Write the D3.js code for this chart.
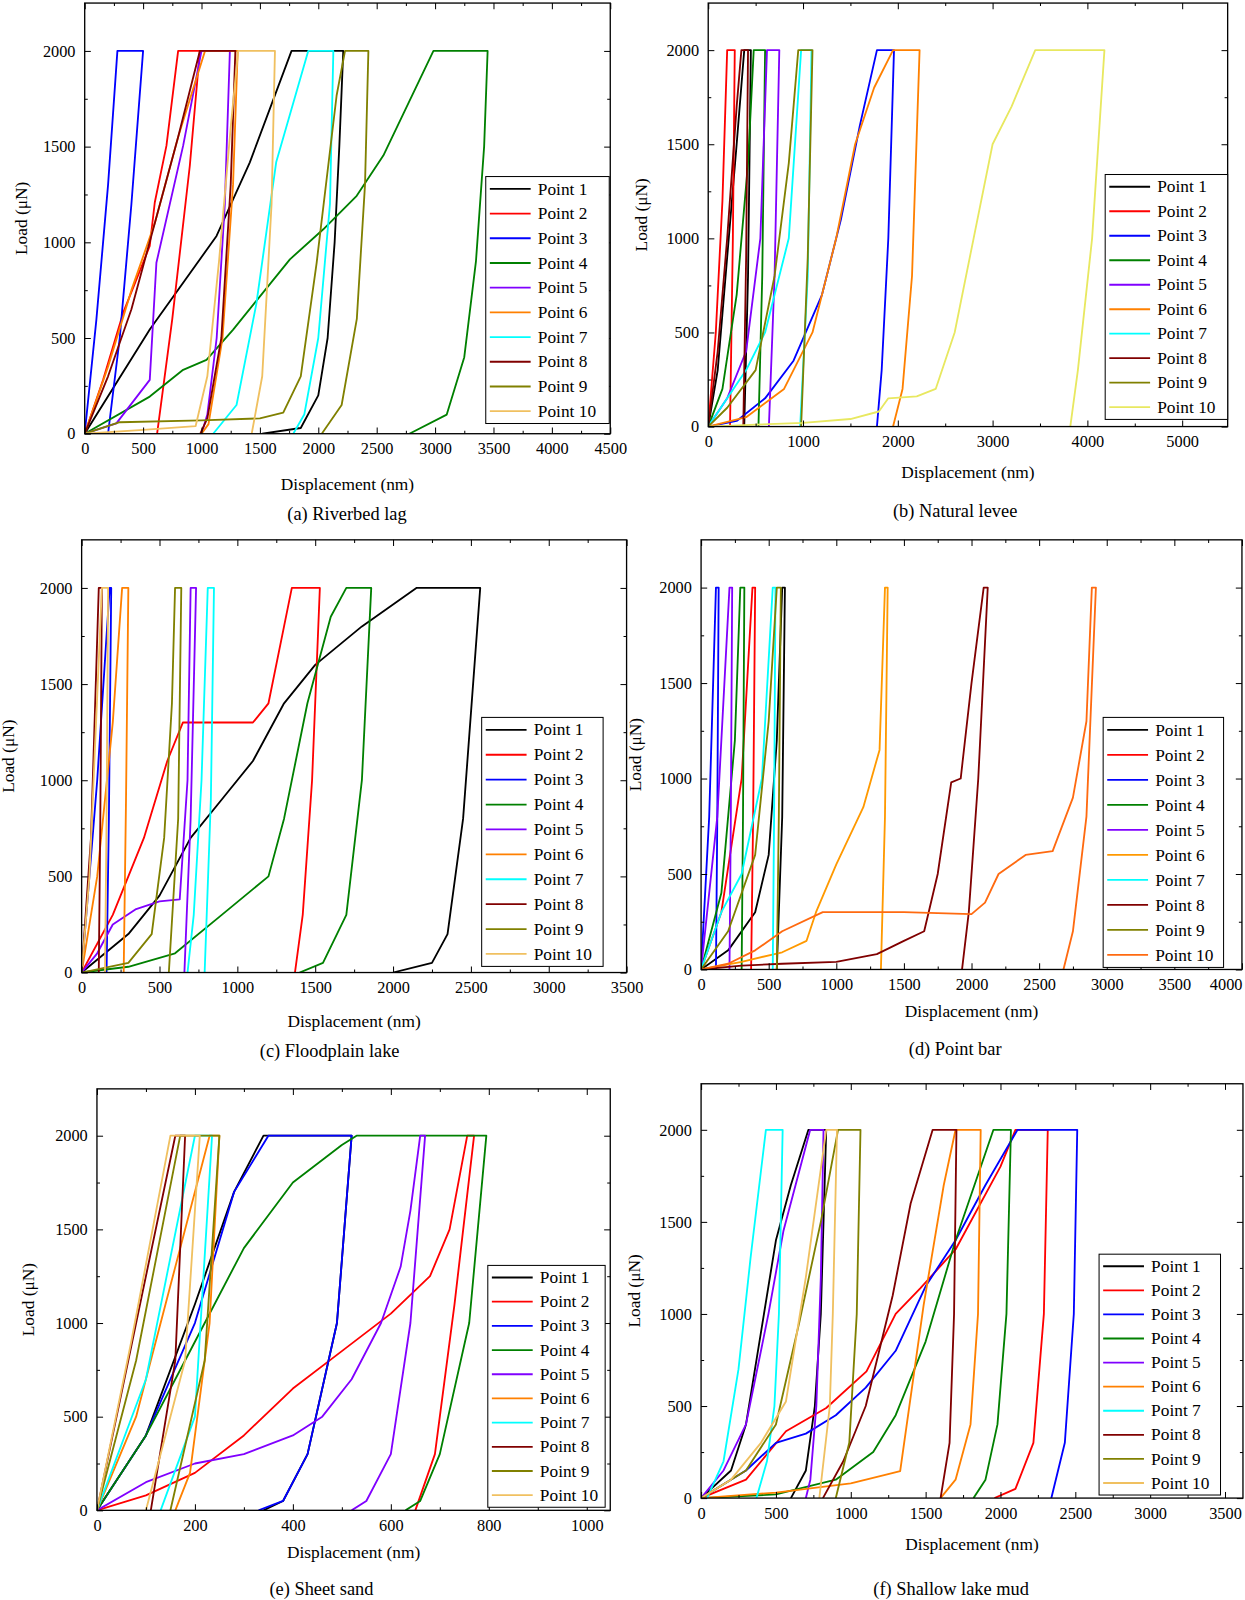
<!DOCTYPE html>
<html><head><meta charset="utf-8">
<script src="https://cdn.jsdelivr.net/npm/d3@7"></script>
<style>body{margin:0;background:#fff}text{font-family:"Liberation Serif","Times New Roman",serif;fill:#000}</style>
</head><body><svg id="c" width="1245" height="1600"></svg>
<script>
const pointNames = ["Point 1","Point 2","Point 3","Point 4","Point 5","Point 6","Point 7","Point 8","Point 9","Point 10"];
const baseColors = ["#000000","#ff0000","#0000ff","#008000","#8000ff","#ff8000","#00ffff","#800000","#808000","#f0c060"];

const riverbedLag = [
 [[0,0],[557,544],[1129,1033],[1414,1418],[1771,2000],[2214,2000],[2180,1500],[2140,1000],[2080,500],[2000,200],[1850,30],[1520,0]],
 [[0,0],[157,281],[329,631],[557,981],[600,1208],[700,1505],[800,2000],[986,2000],[900,1400],[750,600],[620,0]],
 [[0,0],[100,596],[200,1300],[280,2000],[500,2000],[400,1200],[300,500],[200,0]],
 [[0,0],[557,194],[843,334],[1043,386],[1271,544],[1757,911],[2043,1068],[2329,1243],[2557,1453],[2986,2000],[3450,2000],[3420,1500],[3350,900],[3250,400],[3100,100],[2780,0]],
 [[0,0],[271,54],[557,281],[614,893],[843,1505],[1000,2000],[1243,2000],[1200,1200],[1130,500],[1050,100],[1000,0]],
 [[0,0],[200,350],[400,750],[600,1100],[800,1550],[1030,2000],[1310,2000],[1270,1300],[1180,500],[1060,50],[1000,0]],
 [[1100,0],[1300,150],[1470,680],[1640,1420],[1914,2000],[2129,2000],[2100,1200],[2000,500],[1880,100],[1786,0]],
 [[0,0],[200,300],[400,650],[600,1100],[800,1550],[986,2000],[1290,2000],[1250,1300],[1170,500],[1050,80],[990,0]],
 [[0,0],[300,60],[1000,70],[1500,80],[1700,110],[1850,300],[1986,893],[2157,1767],[2229,2000],[2429,2000],[2400,1300],[2330,600],[2200,150],[2030,0]],
 [[0,0],[500,20],[950,40],[1050,300],[1150,900],[1250,1600],[1314,2000],[1629,2000],[1600,1200],[1520,300],[1430,0]]
];
const naturalLevee = [
 [[0,0],[100,300],[200,900],[300,1500],[380,2000],[450,2000],[420,800],[380,0]],
 [[0,0],[80,500],[150,1200],[200,2000],[280,2000],[260,1000],[230,0]],
 [[0,0],[300,30],[600,150],[900,350],[1200,700],[1400,1100],[1600,1600],[1780,2000],[1960,2000],[1900,1000],[1830,300],[1780,0]],
 [[0,0],[150,200],[300,700],[420,1400],[480,2000],[600,2000],[570,800],[530,0]],
 [[0,0],[200,150],[400,400],[550,1000],[620,2000],[750,2000],[700,800],[640,0]],
 [[0,0],[400,50],[800,200],[1100,500],[1350,1000],[1550,1500],[1750,1800],[1950,2000],[2230,2000],[2150,800],[2050,200],[1950,0]],
 [[0,0],[200,150],[400,300],[600,500],[850,1000],[980,2000],[1090,2000],[1050,800],[970,0]],
 [[0,0],[100,400],[200,1000],[300,1700],[350,2000],[420,2000],[400,900],[370,0]],
 [[0,0],[200,100],[500,300],[700,800],[850,1400],[950,2000],[1100,2000],[1050,900],[980,0]],
 [[0,0],[500,10],[1000,20],[1500,40],[1800,80],[1900,150],[2200,160],[2400,200],[2600,500],[2800,1000],[3000,1500],[3200,1700],[3450,2000],[4180,2000],[4050,1000],[3900,300],[3820,0]]
];
const floodplainLake = [
 [[0,0],[300,200],[500,400],[700,700],[900,900],[1100,1100],[1300,1400],[1500,1600],[1800,1800],[2150,2000],[2560,2000],[2450,800],[2350,200],[2250,50],[2000,0]],
 [[0,0],[200,300],[400,700],[550,1100],[650,1300],[1100,1300],[1200,1400],[1300,1800],[1350,2000],[1530,2000],[1480,1000],[1420,300],[1370,0]],
 [[0,0],[100,1000],[180,2000],[190,2000],[175,800],[160,0]],
 [[0,0],[300,30],[600,100],[900,300],[1200,500],[1300,800],[1450,1400],[1600,1850],[1700,2000],[1860,2000],[1800,1000],[1700,300],[1550,50],[1400,0]],
 [[0,0],[100,100],[200,250],[350,330],[500,370],[630,380],[680,1000],[700,2000],[735,2000],[700,800],[660,0]],
 [[0,0],[100,500],[200,1300],[260,2000],[300,2000],[285,900],[270,0]],
 [[680,0],[720,300],[770,1000],[810,2000],[850,2000],[830,900],[790,0]],
 [[0,0],[60,700],[110,2000],[130,2000],[120,800],[110,0]],
 [[0,0],[300,50],[450,200],[530,700],[580,1400],[600,2000],[640,2000],[620,800],[560,0]],
 [[0,0],[50,500],[130,2000],[170,2000],[160,800],[150,0]]
];
const pointBar = [
 [[0,0],[200,100],[400,300],[500,600],[560,1200],[600,2000],[620,2000],[600,800],[560,0]],
 [[0,0],[150,300],[300,1000],[380,2000],[400,2000],[385,800],[370,0]],
 [[0,0],[60,800],[110,2000],[130,2000],[120,800],[110,0]],
 [[0,0],[150,400],[250,1200],[290,2000],[320,2000],[310,800],[300,0]],
 [[0,0],[120,800],[210,2000],[230,2000],[220,800],[210,0]],
 [[0,0],[300,40],[600,90],[780,150],[850,300],[1000,550],[1200,850],[1320,1150],[1360,2000],[1380,2000],[1360,800],[1330,0]],
 [[0,0],[150,300],[300,500],[450,1000],[530,2000],[550,2000],[540,800],[530,0]],
 [[0,0],[300,20],[600,30],[1000,40],[1300,80],[1500,150],[1650,200],[1750,500],[1850,980],[1920,1000],[2000,1500],[2090,2000],[2120,2000],[2050,1000],[1980,300],[1930,0]],
 [[0,0],[200,200],[400,600],[500,1300],[560,2000],[590,2000],[575,800],[560,0]],
 [[0,0],[200,30],[400,100],[600,200],[900,300],[1500,300],[2000,290],[2100,350],[2200,500],[2400,600],[2600,620],[2750,900],[2850,1300],[2890,2000],[2920,2000],[2850,800],[2750,200],[2680,0]]
];
const sheetSand = [
 [[0,0],[100,400],[200,1100],[280,1700],[340,2000],[520,2000],[490,1000],[430,300],[380,50],[340,0]],
 [[0,0],[100,80],[200,200],[300,400],[400,650],[500,850],[600,1050],[640,1150],[680,1250],[720,1500],[756,2000],[770,2000],[730,1100],[690,300],[650,0]],
 [[0,0],[100,400],[200,1000],[280,1700],[350,2000],[520,2000],[490,1000],[430,300],[380,50],[330,0]],
 [[0,0],[100,400],[200,900],[300,1400],[400,1750],[500,1950],[530,2000],[795,2000],[760,1000],[700,300],[660,50],[630,0]],
 [[0,0],[100,150],[200,250],[300,300],[400,400],[460,500],[520,700],[580,1000],[620,1300],[640,1600],[660,2000],[670,2000],[640,1000],[600,300],[550,50],[520,0]],
 [[0,0],[80,500],[150,1200],[230,2000],[250,2000],[230,1000],[190,200],[160,0]],
 [[0,0],[100,700],[200,2000],[235,2000],[200,500],[130,0]],
 [[0,0],[80,1000],[160,2000],[180,2000],[160,800],[110,0]],
 [[0,0],[80,800],[170,2000],[250,2000],[220,800],[150,0]],
 [[0,0],[70,900],[150,2000],[210,2000],[180,800],[100,0]]
];
const shallowLakeMud = [
 [[0,0],[200,150],[300,400],[400,900],[500,1400],[600,1700],[717,2000],[836,2000],[800,1000],[760,500],[700,150],[600,0]],
 [[0,0],[300,100],[567,363],[836,489],[1105,688],[1300,1000],[1464,1139],[1700,1350],[2000,1800],[2100,2000],[2316,2000],[2290,1000],[2220,300],[2100,50],[1960,0]],
 [[0,0],[300,150],[500,300],[700,350],[900,450],[1100,600],[1300,800],[1500,1150],[1700,1400],[1900,1700],[2114,2000],[2513,2000],[2490,1000],[2430,300],[2340,0]],
 [[0,0],[500,20],[900,100],[1150,250],[1300,450],[1500,850],[1700,1400],[1953,2000],[2070,2000],[2040,1000],[1980,400],[1900,100],[1820,0]],
 [[0,0],[150,150],[300,400],[450,1000],[550,1450],[729,2000],[818,2000],[800,1200],[770,500],[730,100],[700,0]],
 [[0,0],[500,30],[1000,80],[1250,130],[1330,146],[1487,1049],[1621,1699],[1700,2000],[1868,2000],[1850,1000],[1800,400],[1700,100],[1600,0]],
 [[40,0],[150,200],[250,700],[330,1300],[433,2000],[545,2000],[520,1000],[490,500],[440,200],[370,0]],
 [[814,0],[950,200],[1100,500],[1280,1100],[1400,1600],[1547,2000],[1706,2000],[1690,1000],[1660,300],[1600,0]],
 [[0,0],[300,150],[500,400],[657,958],[800,1500],[915,2000],[1065,2000],[1040,1000],[990,300],[900,0]],
 [[0,0],[200,100],[400,300],[567,525],[700,1200],[836,2000],[908,2000],[880,1000],[860,500],[790,0]]
];

const panels = [
 {data:riverbedLag, cap:"(a) Riverbed lag", x0:83,x1:598,y0:3,y1:425, xd:4500, xt:500, leg:[476,173,121,242], ttl:[20,474], capY:504, capX:340, c10:"#f0c060", c6:"#ff8000"},
 {data:naturalLevee, cap:"(b) Natural levee", x0:694,x1:1203,y0:3,y1:418, xd:5480, xt:1000, leg:[1083,171,120,240], ttl:[628,462], capY:501, capX:936, c10:"#e8e860", c6:"#ff8000"},
 {data:floodplainLake, cap:"(c) Floodplain lake", x0:80,x1:614,y0:529,y1:953, xd:3500, xt:500, leg:[472,703,119,244], ttl:[8,1000], capY:1030, capX:323, c10:"#f0c060", c6:"#ff8000"},
 {data:pointBar, cap:"(d) Point bar", x0:687,x1:1217,y0:529,y1:950, xd:4000, xt:500, leg:[1081,703,118,245], ttl:[622,991], capY:1028, capX:936, c10:"#ff6a10", c6:"#ff9900", lastEnd:true},
 {data:sheetSand, cap:"(e) Sheet sand", x0:95,x1:598,y0:1067,y1:1480, xd:1048, xt:200, leg:[478,1240,115,237], ttl:[27,1521], capY:1557, capX:315, c10:"#f0c060", c6:"#ff8000"},
 {data:shallowLakeMud, cap:"(f) Shallow lake mud", x0:687,x1:1218,y0:1062,y1:1468, xd:3620, xt:500, leg:[1077,1229,119,236], ttl:[621,1513], capY:1557, capX:932, c10:"#f0c060", c6:"#ff8000"}
];

const k = 1245/1220;
const root = d3.select("#c").append("g").attr("transform",`scale(${k})`);

panels.forEach((p,pi)=>{
  const g = root.append("g");
  const x = d3.scaleLinear().domain([0,p.xd]).range([p.x0,p.x1]);
  const y = d3.scaleLinear().domain([0,2250]).range([p.y1,p.y0]);
  const colors = baseColors.slice(); colors[9]=p.c10; colors[5]=p.c6;
  const cid = "clip"+pi;
  g.append("clipPath").attr("id",cid).append("rect").attr("x",p.x0).attr("y",p.y0).attr("width",p.x1-p.x0).attr("height",p.y1-p.y0);
  const line = d3.line().x(d=>x(d[0])).y(d=>y(d[1]));
  const cg = g.append("g").attr("clip-path",`url(#${cid})`);
  p.data.forEach((s,i)=>{
    cg.append("path").attr("d",line(s)).attr("fill","none").attr("stroke",colors[i]).attr("stroke-width",1.8).attr("stroke-linejoin","round");
  });
  const xMaj = d3.range(0,p.xd+1e-6,p.xt), xMin = d3.range(p.xt/2,p.xd,p.xt);
  const yMaj = d3.range(0,2001,500), yMin = d3.range(250,2250,500);
  const axB = d3.axisBottom(x).tickValues(xMaj).tickSize(-6).tickPadding(9).tickFormat(d3.format("d"));
  const axL = d3.axisLeft(y).tickValues(yMaj).tickSize(-6).tickPadding(9).tickFormat(d3.format("d"));
  const bx = g.append("g").attr("transform",`translate(0,${p.y1})`).call(axB);
  if(p.lastEnd) bx.selectAll(".tick text").filter(d=>d===p.xd).attr("text-anchor","end").attr("dx","0");
  g.append("g").attr("transform",`translate(0,${p.y1})`).call(d3.axisBottom(x).tickValues(xMin).tickSize(-3).tickFormat(""));
  g.append("g").attr("transform",`translate(0,${p.y0})`).call(d3.axisTop(x).tickValues(xMaj).tickSize(-6).tickFormat(""));
  g.append("g").attr("transform",`translate(0,${p.y0})`).call(d3.axisTop(x).tickValues(xMin).tickSize(-3).tickFormat(""));
  g.append("g").attr("transform",`translate(${p.x0},0)`).call(axL);
  g.append("g").attr("transform",`translate(${p.x0},0)`).call(d3.axisLeft(y).tickValues(yMin).tickSize(-3).tickFormat(""));
  g.append("g").attr("transform",`translate(${p.x1},0)`).call(d3.axisRight(y).tickValues(yMaj).tickSize(-6).tickFormat(""));
  g.append("g").attr("transform",`translate(${p.x1},0)`).call(d3.axisRight(y).tickValues(yMin).tickSize(-3).tickFormat(""));
  g.selectAll(".domain").remove();
  g.selectAll(".tick line").attr("stroke","#000").attr("stroke-width",1);
  g.selectAll(".tick text").style("font-family","Liberation Serif").style("font-size","16px");
  g.append("rect").attr("x",p.x0).attr("y",p.y0).attr("width",p.x1-p.x0).attr("height",p.y1-p.y0).attr("fill","none").attr("stroke","#000").attr("stroke-width",1.3);
  g.append("text").attr("x",(p.x0+p.x1)/2).attr("y",p.ttl[1]+6).attr("text-anchor","middle").style("font-size","17px").text("Displacement (nm)");
  g.append("text").attr("transform",`translate(${p.ttl[0]+6},${(p.y0+p.y1)/2}) rotate(-90)`).attr("text-anchor","middle").style("font-size","17px").text("Load (μN)");
  g.append("text").attr("x",p.capX).attr("y",p.capY+6).attr("text-anchor","middle").style("font-size","18px").text(p.cap);
  const [lx,ly,lw,lh] = p.leg;
  g.append("rect").attr("x",lx).attr("y",ly).attr("width",lw).attr("height",lh).attr("fill","#fff").attr("stroke","#000").attr("stroke-width",1);
  const step = lh/10;
  pointNames.forEach((n,i)=>{
    const yy = ly + step*(i+0.5);
    g.append("line").attr("x1",lx+4).attr("x2",lx+44).attr("y1",yy).attr("y2",yy).attr("stroke",colors[i]).attr("stroke-width",1.8);
    g.append("text").attr("x",lx+51).attr("y",yy+5.5).style("font-size","17px").text(n);
  });
});
</script></body></html>
